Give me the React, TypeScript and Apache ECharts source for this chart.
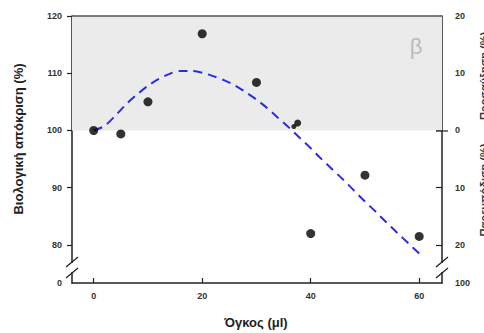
import React, { useEffect, useRef } from "react";
import * as echarts from "echarts";

const pointsX = [0, 5, 10, 20, 30, 37.6, 36.9, 40, 50, 60];
const pointsY = [100, 99.4, 105, 116.9, 108.4, 101.3, 100.7, 82, 92.2, 81.5];
const pointSizes = [9, 9, 9, 9, 9, 7, 5, 9, 9, 9];

const curveX = [0, 2, 4, 6, 8, 10, 12, 14, 16, 18, 20, 22, 24, 26, 28, 30, 32, 34, 36, 38, 40, 42, 44, 46, 48, 50, 52, 54, 56, 58, 60];
const curveY = [100, 100.8, 102.6, 104.6, 106.3, 107.8, 109, 109.9, 110.4, 110.4, 110.1, 109.5, 108.8, 107.9, 106.7, 105.4, 103.9, 102.2, 100.5, 98.7, 96.9, 95.0, 93.2, 91.4, 89.5, 87.6, 85.8, 83.9, 82.1, 80.3, 78.5];

const xTicks = [0, 20, 40, 60];
const yTicks = [80, 90, 100, 110, 120];
const yMin = 73.36;
const yMax = 120;

const FONT = "'Liberation Sans', Arial, sans-serif";

export default function App() {
  const ref = useRef<HTMLDivElement>(null);
  useEffect(() => {
    if (!ref.current) return;
    const chart = echarts.init(ref.current, null, { renderer: "svg" });
    const L = 72, T = 16, R = 442, B = 283;
    const labelStyle = { fontFamily: FONT, fontSize: 9, fontWeight: "bold" as const, color: "#333" };
    chart.setOption({
      animation: false,
      backgroundColor: "#fff",
      grid: { left: L, top: T, right: 484 - R, bottom: 333 - B, containLabel: false },
      xAxis: {
        type: "value",
        min: -4,
        max: 64.2,
        axisLine: { show: true, lineStyle: { color: "#222", width: 1.5 } },
        axisTick: { show: true, inside: true, length: 5, customValues: xTicks, lineStyle: { color: "#222", width: 1.2 } },
        axisLabel: { ...labelStyle, margin: 8, customValues: xTicks },
        splitLine: { show: false },
      },
      yAxis: [
        {
          type: "value",
          min: yMin,
          max: yMax,
          axisLine: { show: true, onZero: false, lineStyle: { color: "#222", width: 1.5 } },
          axisTick: { show: true, length: 5, customValues: yTicks, lineStyle: { color: "#222", width: 1.2 } },
          axisLabel: {
            ...labelStyle,
            margin: 10,
            customValues: [yMin, ...yTicks],
            formatter: (v: number) => (v < 75 ? "0" : String(Math.round(v))),
          },
          splitLine: { show: false },
        },
        {
          type: "value",
          position: "right",
          min: yMin,
          max: yMax,
          axisLine: { show: true, onZero: false, lineStyle: { color: "#222", width: 1.5 } },
          axisTick: { show: true, inside: true, length: 6, customValues: yTicks, lineStyle: { color: "#222", width: 1.2 } },
          axisLabel: {
            ...labelStyle,
            margin: 13,
            customValues: [yMin, ...yTicks],
            formatter: (v: number) => (v < 75 ? "100" : String(Math.abs(Math.round(v) - 100))),
          },
          splitLine: { show: false },
        },
      ],
      series: [
        {
          type: "line",
          data: curveX.map((x, i) => [x, curveY[i]]),
          smooth: 0.3,
          showSymbol: false,
          symbol: "none",
          z: 3,
          lineStyle: { color: "#2b2be8", width: 2, type: [9, 6] },
          markArea: {
            silent: true,
            itemStyle: { color: "#ebebeb" },
            data: [[{ yAxis: 100 }, { yAxis: 120 }]],
          },
        },
        {
          type: "scatter",
          data: pointsX.map((x, i) => ({ value: [x, pointsY[i]], symbolSize: pointSizes[i] })),
          itemStyle: { color: "#000" },
          z: 4,
        },
      ],
      graphic: [
        { type: "line", z: 100, shape: { x1: L, y1: T, x2: R, y2: T }, style: { stroke: "#555", lineWidth: 1.5 } },
        { type: "line", z: 100, shape: { x1: R - 6, y1: 131, x2: R + 6, y2: 131 }, style: { stroke: "#222", lineWidth: 1.2 } },
        { type: "rect", z: 100, shape: { x: L - 2, y: 263, width: 4, height: 9 }, style: { fill: "#fff" } },
        { type: "line", z: 101, shape: { x1: L - 6, y1: 267, x2: L + 6, y2: 257 }, style: { stroke: "#222", lineWidth: 1.3 } },
        { type: "line", z: 101, shape: { x1: L - 6, y1: 278, x2: L + 6, y2: 268 }, style: { stroke: "#222", lineWidth: 1.3 } },
        { type: "rect", z: 100, shape: { x: R - 2, y: 263, width: 4, height: 9 }, style: { fill: "#fff" } },
        { type: "line", z: 101, shape: { x1: R - 6, y1: 267, x2: R + 6, y2: 257 }, style: { stroke: "#222", lineWidth: 1.3 } },
        { type: "line", z: 101, shape: { x1: R - 6, y1: 278, x2: R + 6, y2: 268 }, style: { stroke: "#222", lineWidth: 1.3 } },
        {
          type: "text", z: 100, x: 18, y: 139, rotation: Math.PI / 2,
          style: { text: "Βιολογική απόκριση (%)", font: `bold 13px ${FONT}`, fill: "#222", align: "center", verticalAlign: "middle" },
        },
        {
          type: "text", z: 100, x: 256, y: 322,
          style: { text: "Όγκος (μl)", font: `bold 13px ${FONT}`, fill: "#222", align: "center", verticalAlign: "middle" },
        },
        {
          type: "text", z: 100, x: 484, y: 76, rotation: Math.PI / 2,
          style: { text: "Προσαύξηση (%)", font: `bold 11px ${FONT}`, fill: "#333", align: "center", verticalAlign: "middle" },
        },
        {
          type: "text", z: 100, x: 484, y: 190, rotation: Math.PI / 2,
          style: { text: "Παρεμπόδιση (%)", font: `bold 11px ${FONT}`, fill: "#333", align: "center", verticalAlign: "middle" },
        },
        {
          type: "text", z: 100, x: 416, y: 46,
          style: { text: "β", font: `22px ${FONT}`, fill: "#bbb", align: "center", verticalAlign: "middle" },
        },
      ],
    });
    return () => chart.dispose();
  }, []);
  return <div ref={ref} style={{ position: "fixed", left: 0, top: 0, width: 484, height: 333 }} />;
}
